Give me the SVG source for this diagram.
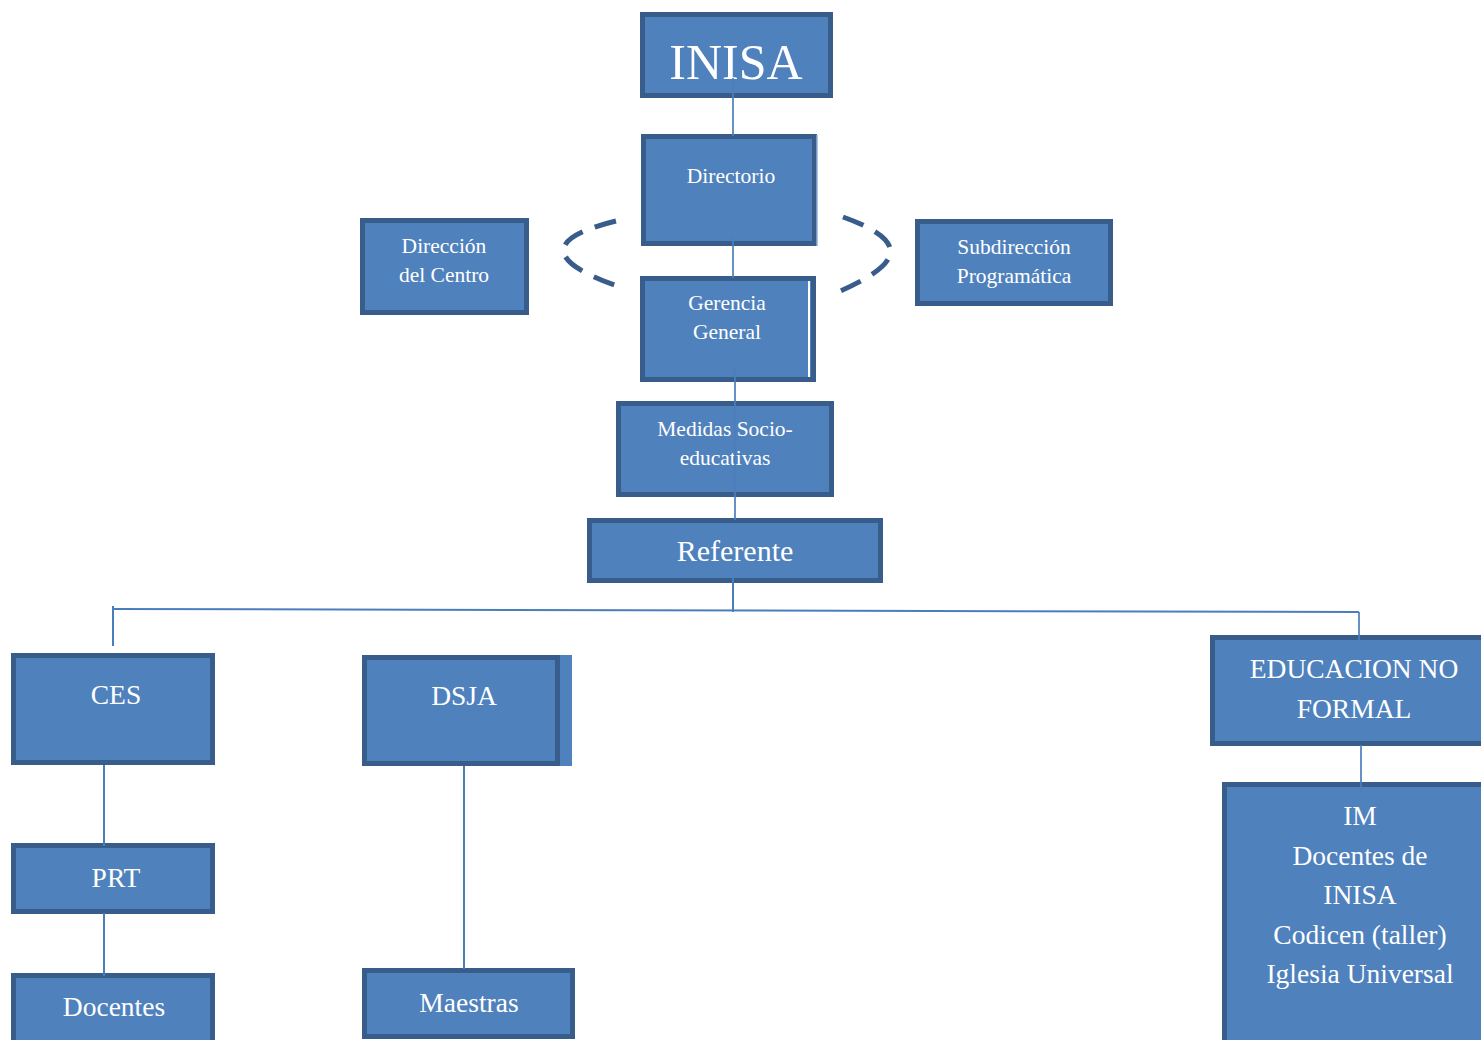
<svg xmlns="http://www.w3.org/2000/svg" width="1481" height="1040" viewBox="0 0 1481 1040">
<style>
.box{fill:#4F81BD;stroke:#385D8A;stroke-width:5}
.t{font-family:"Liberation Serif","DejaVu Serif",serif;fill:#FFFFFF;text-anchor:middle}
.s{font-size:21.5px}
.m{font-size:27.5px}
.ln{stroke:#4A7EBB;stroke-width:2;fill:none}
.dash{stroke:#385D8A;stroke-width:5;fill:none;stroke-dasharray:22 13}
</style>
<rect width="1481" height="1040" fill="#FFFFFF"/>
<g id="nodes">
<g id="inisa"><rect class="box" x="642.5" y="14.5" width="188" height="81"/><text class="t" x="736" y="79" font-size="50">INISA</text></g>
<g id="directorio"><rect class="box" x="643.5" y="136.5" width="171" height="107"/><line x1="817" y1="135" x2="817" y2="246" stroke="#8FB0D8" stroke-width="1.5"/><text class="t s" x="731" y="183">Directorio</text></g>
<g id="direccion"><rect class="box" x="362.5" y="220.5" width="164" height="92"/><text class="t s" x="444" y="253">Dirección</text><text class="t s" x="444" y="282">del Centro</text></g>
<g id="subdireccion"><rect class="box" x="917.5" y="221.5" width="193" height="82"/><text class="t s" x="1014" y="254">Subdirección</text><text class="t s" x="1014" y="283">Programática</text></g>
<g id="gerencia"><rect class="box" x="642.5" y="278.5" width="171" height="101"/><line x1="809" y1="281" x2="809" y2="377" stroke="#FFFFFF" stroke-width="2"/><text class="t s" x="727" y="310">Gerencia</text><text class="t s" x="727" y="339">General</text></g>
<g id="medidas"><rect class="box" x="618.5" y="403.5" width="213" height="91"/><text class="t s" x="725" y="436">Medidas Socio-</text><text class="t s" x="725" y="465">educativas</text></g>
<g id="referente"><rect class="box" x="589.5" y="520.5" width="291" height="60"/><text class="t" x="735" y="561" font-size="30">Referente</text></g>
<g id="ces"><rect class="box" x="13.5" y="655.5" width="199" height="107"/><text class="t m" x="116" y="704">CES</text></g>
<g id="dsja"><rect x="556" y="655" width="16" height="111" fill="#4F81BD"/><rect class="box" x="364.5" y="657.5" width="193" height="106"/><text class="t m" x="464" y="705">DSJA</text></g>
<g id="edunoformal"><rect class="box" x="1212.5" y="637.5" width="275" height="106"/><text class="t m" x="1354" y="678">EDUCACION NO</text><text class="t m" x="1354" y="718">FORMAL</text></g>
<g id="im"><rect class="box" x="1224.5" y="784.5" width="263" height="265"/><text class="t m" x="1360" y="825">IM</text><text class="t m" x="1360" y="865">Docentes de</text><text class="t m" x="1360" y="904">INISA</text><text class="t m" x="1360" y="944">Codicen (taller)</text><text class="t m" x="1360" y="983">Iglesia Universal</text></g>
<g id="prt"><rect class="box" x="13.5" y="845.5" width="199" height="66"/><text class="t m" x="116" y="887">PRT</text></g>
<g id="docentes"><rect class="box" x="13.5" y="975.5" width="199" height="70"/><text class="t m" x="114" y="1016">Docentes</text></g>
<g id="maestras"><rect class="box" x="364.5" y="970.5" width="208" height="66"/><text class="t m" x="469" y="1012">Maestras</text></g>
</g>
<g id="connectors">
<line class="ln" x1="733" y1="78" x2="733" y2="136" stroke-opacity="0.85"/>
<line class="ln" x1="733" y1="236" x2="733" y2="278" stroke-opacity="0.85"/>
<line class="ln" x1="735" y1="368" x2="735" y2="520" stroke-opacity="0.85"/>
<line class="ln" x1="733" y1="578" x2="733" y2="612"/>
<line class="ln" x1="113" y1="609" x2="1359" y2="612"/>
<line class="ln" x1="113" y1="606" x2="113" y2="646"/>
<line class="ln" x1="1359" y1="612" x2="1359" y2="640" stroke-opacity="0.85"/>
<line class="ln" x1="104" y1="765" x2="104" y2="846"/>
<line class="ln" x1="104" y1="913" x2="104" y2="976"/>
<line class="ln" x1="464" y1="766" x2="464" y2="969" stroke-width="3"/>
<line class="ln" x1="1361" y1="745" x2="1361" y2="793" stroke-opacity="0.85"/>
<path class="dash" d="M616,221 C545,238 545,262 623,288"/>
<path class="dash" d="M843,217 C907,240 907,262 838,292"/>
</g>
</svg>
